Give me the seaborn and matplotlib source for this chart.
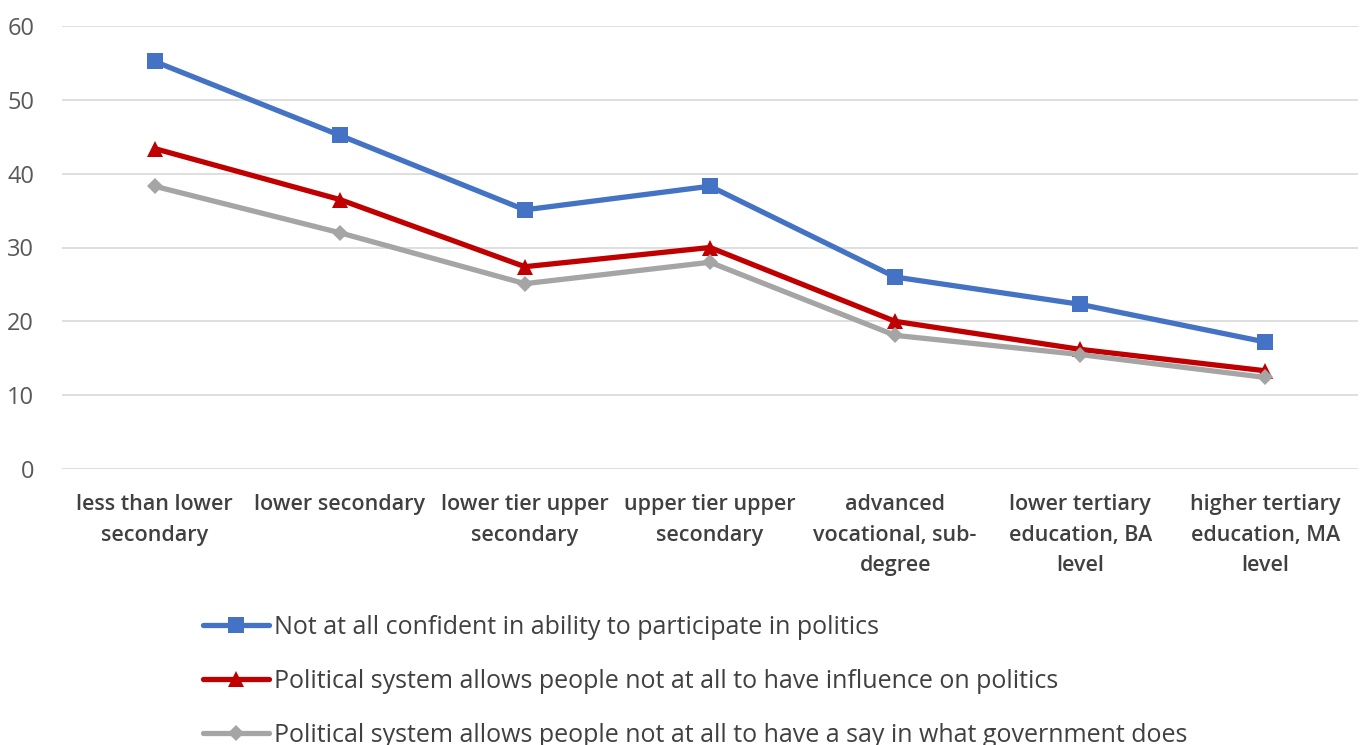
import matplotlib
matplotlib.use("Agg")
import matplotlib.pyplot as plt
import seaborn as sns
import pandas as pd

categories = [
    "less than lower\nsecondary",
    "lower secondary",
    "lower tier upper\nsecondary",
    "upper tier upper\nsecondary",
    "advanced\nvocational, sub-\ndegree",
    "lower tertiary\neducation, BA\nlevel",
    "higher tertiary\neducation, MA\nlevel",
]
series_names = [
    "Not at all confident in ability to participate in politics",
    "Political system allows people not at all to have influence on politics",
    "Political system allows people not at all to have a say in what government does",
]
not_confident = [55.2, 45.2, 35.1, 38.3, 26.0, 22.3, 17.2]
no_influence = [43.4, 36.5, 27.4, 30.0, 20.0, 16.2, 13.3]
no_say = [38.3, 32.0, 25.1, 28.0, 18.1, 15.5, 12.4]
y_ticks = [0, 10, 20, 30, 40, 50, 60]

colors = ["#4472C4", "#C00000", "#A5A5A5"]
markers = ["s", "^", "D"]
marker_sizes = [12, 11, 8]

sns.set_theme(style="white")
plt.rcParams["font.family"] = ["Open Sans", "DejaVu Sans"]

df = pd.DataFrame({
    "x": list(range(len(categories))) * 3,
    "value": not_confident + no_influence + no_say,
    "series": [s for s in series_names for _ in categories],
})

fig = plt.figure(figsize=(13.63, 7.45), dpi=100)
ax = fig.add_axes([62 / 1363, 1 - 469 / 745, (1358 - 62) / 1363, (469 - 26) / 745])

for name, c, m, ms in zip(series_names, colors, markers, marker_sizes):
    sub = df[df["series"] == name]
    sns.lineplot(data=sub, x="x", y="value", ax=ax, color=c, linewidth=3.8,
                 marker=m, markersize=ms, markeredgewidth=0, label=name,
                 legend=False)

ax.set_xlim(-0.5, len(categories) - 0.5)
ax.set_ylim(0, 60)
ax.set_yticks(y_ticks)
ax.set_yticklabels([str(t) for t in y_ticks], fontsize=17, color="#595959")
ax.set_xticks(range(len(categories)))
ax.set_xticklabels(categories, fontsize=15.5, color="#404040",
                   fontweight="semibold", linespacing=1.6)
ax.tick_params(axis="both", length=0)
ax.tick_params(axis="x", pad=18)
ax.tick_params(axis="y", pad=20)
ax.set_xlabel("")
ax.set_ylabel("")
ax.grid(axis="y", color="#D9D9D9", linewidth=1.2)
ax.grid(axis="x", visible=False)
for side in ["top", "right", "left", "bottom"]:
    ax.spines[side].set_visible(False)

handles, labels = ax.get_legend_handles_labels()
leg = fig.legend(handles, labels, loc="upper left",
                 bbox_to_anchor=(203 / 1363, 1 - 615 / 745),
                 frameon=False, fontsize=18, labelcolor="#404040",
                 handlelength=2.65, handletextpad=0.17, labelspacing=1.15,
                 borderaxespad=0, borderpad=0)

fig.savefig("out.png", dpi=100, facecolor="white")
